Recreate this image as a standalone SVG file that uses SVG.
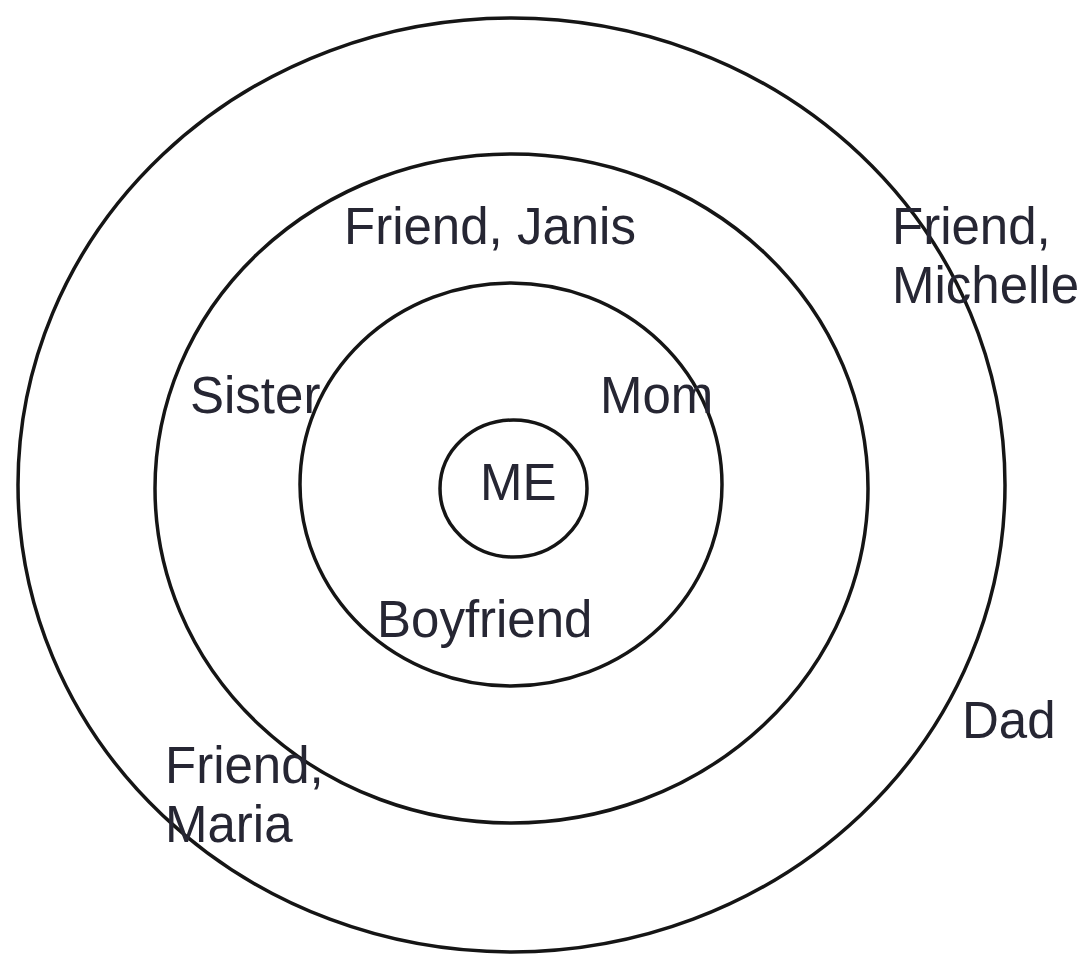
<svg xmlns="http://www.w3.org/2000/svg" width="1084" height="955" viewBox="0 0 1084 955">
<style>
.ring{fill:none;stroke:#151515;stroke-width:3.5}
.t{font-family:"Liberation Sans",Arial,sans-serif;font-size:51px;fill:#262633}
</style>
<rect width="1084" height="955" fill="#ffffff"/>
<g id="connectors"></g>
<g id="ring-outer"><ellipse class="ring" cx="511.5" cy="485" rx="493.5" ry="467"/></g>
<g id="ring-second"><ellipse class="ring" cx="511.5" cy="488.5" rx="356.5" ry="334.5"/></g>
<g id="ring-third"><ellipse class="ring" cx="511" cy="484.5" rx="211" ry="201.5"/></g>
<g id="ring-inner"><ellipse class="ring" cx="513.5" cy="488.5" rx="73.5" ry="68.5"/></g>
<g id="me"><text class="t" x="480" y="500">ME</text></g>
<g id="mom"><text class="t" x="600" y="413">Mom</text></g>
<g id="sister"><text class="t" x="190" y="413">Sister</text></g>
<g id="boyfriend"><text class="t" x="377" y="637">Boyfriend</text></g>
<g id="janis"><text class="t" x="344" y="244">Friend, Janis</text></g>
<g id="michelle"><text class="t" x="892" y="244">Friend,</text><text class="t" x="892" y="303">Michelle</text></g>
<g id="maria"><text class="t" x="165" y="783">Friend,</text><text class="t" x="165" y="842">Maria</text></g>
<g id="dad"><text class="t" x="962" y="738">Dad</text></g>
</svg>
